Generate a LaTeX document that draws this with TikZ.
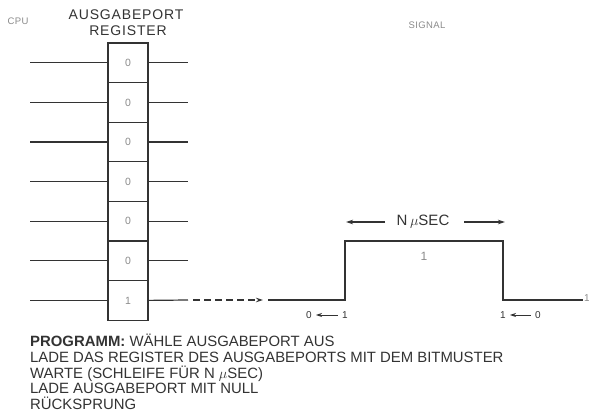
\documentclass[tikz,border=0pt]{standalone}
\usepackage{fontspec}
\setmainfont{Liberation Sans}
\usetikzlibrary{arrows.meta}
\definecolor{ink}{HTML}{333333}
\definecolor{lightink}{HTML}{8A8A8A}
\begin{document}
\begin{tikzpicture}[x=1pt,y=-1pt,
  wire/.style={draw=ink,line width=1.2pt},
  cellbox/.style={draw=ink,line width=1.2pt,minimum width=40pt,minimum height=39.6pt,inner sep=0pt,text=lightink,font=\fontsize{10.5}{12}\selectfont},
  prog/.style={anchor=base west,inner sep=0pt,text=ink,font=\fontsize{14.9}{16}\selectfont},
  small/.style={inner sep=0pt,text=lightink,font=\fontsize{9.5}{11}\selectfont\addfontfeature{LetterSpace=4}},
  ttl/.style={inner sep=0pt,text=ink,font=\fontsize{14}{15}\selectfont\addfontfeature{LetterSpace=6}},
  lab/.style={inner sep=0pt,text=ink,font=\fontsize{10}{11}\selectfont},
  tip/.style={-{Stealth[length=7pt,width=4.5pt]}}]
\useasboundingbox (0,0) rectangle (589,414);
% titles
\node[small] (cpu) at (18,21) {CPU};
\node[ttl] (title1) at (126,15) {AUSGABEPORT};
\node[ttl] (title2) at (128,31) {REGISTER};
\node[small] (sig) at (427,25) {SIGNAL};
% register cells
\foreach \i/\v in {1/0,2/0,3/0,4/0,5/0,6/0,7/1} {
  \node[cellbox] (c\i) at (128,{43+39.6*(\i-0.5)}) {\v};
  \coordinate (l\i) at (30,{43+39.6*(\i-0.5)});
  \draw[wire] (l\i) -- (c\i.west);
}
\foreach \i in {1,...,6} {
  \coordinate (r\i) at (188,{43+39.6*(\i-0.5)});
  \draw[wire] (c\i.east) -- (r\i);
}
% last bit output
\coordinate (r7) at (188,300);
\coordinate (d0) at (193,300);
\coordinate (d1) at (263,300);
\coordinate (s0) at (268,300);
\coordinate (s1) at (345,300);
\coordinate (s2) at (345,241);
\coordinate (s3) at (503,241);
\coordinate (s4) at (503,300);
\coordinate (s5) at (583,300);
\draw[wire] (c7.east) -- (r7);
\draw[wire,dashed,dash pattern=on 7pt off 4pt,tip] (d0) -- (d1);
\draw[wire] (s0) -- (s1) -- (s2) -- (s3) -- (s4) -- (s5);
\node[lab,text=lightink] (endmark) at (587,298) {1};
% pulse labels
\node[inner sep=0pt,text=lightink,font=\fontsize{12}{13}\selectfont] (one) at (424,256) {1};
\node[inner sep=0pt,text=ink,font=\fontsize{15}{16}\selectfont] (nsec) at (423,222) {N\,$\mu$SEC};
\coordinate (al0) at (385,222);
\coordinate (al1) at (346,222);
\coordinate (ar0) at (464,222);
\coordinate (ar1) at (505,222);
\draw[wire,tip] (al0) -- (al1);
\draw[wire,tip] (ar0) -- (ar1);
% edge labels
\node[lab] (z1) at (309,315) {0};
\node[lab] (o1) at (345,315) {1};
\draw[wire,line width=0.9pt,{Stealth[length=6pt,width=4pt]}-] ([xshift=4pt]z1.east) -- ([xshift=-4pt]o1.west);
\node[lab] (o2) at (503,315) {1};
\node[lab] (z2) at (538,315) {0};
\draw[wire,line width=0.9pt,{Stealth[length=6pt,width=4pt]}-] ([xshift=4pt]o2.east) -- ([xshift=-4pt]z2.west);
% program
\node[prog] (p1) at (30,346) {\textbf{PROGRAMM:} WÄHLE AUSGABEPORT AUS};
\node[prog] (p2) at (30,362) {LADE DAS REGISTER DES AUSGABEPORTS MIT DEM BITMUSTER};
\node[prog] (p3) at (30,378) {WARTE (SCHLEIFE FÜR N $\mu$SEC)};
\node[prog] (p4) at (30,393) {LADE AUSGABEPORT MIT NULL};
\node[prog] (p5) at (30,409) {RÜCKSPRUNG};
\end{tikzpicture}
\end{document}
